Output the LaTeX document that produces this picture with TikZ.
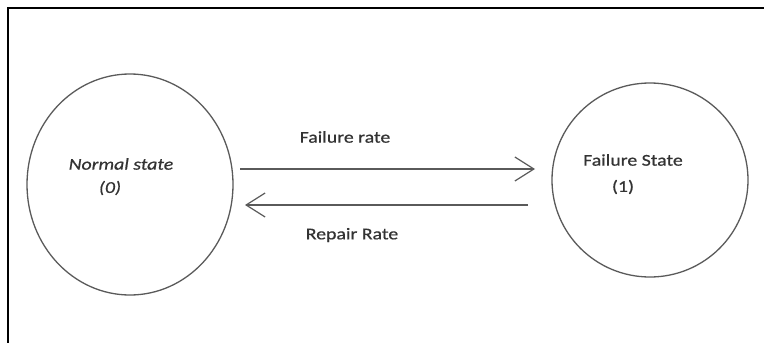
\documentclass[tikz,border=0pt]{standalone}
\usepackage{fontspec}
\setmainfont{Carlito}[FakeStretch=1.2,FakeBold=0.6]
\usetikzlibrary{shapes.geometric,arrows.meta}
\definecolor{linegray}{HTML}{5A5A5A}
\definecolor{textgray}{HTML}{333333}
\tikzset{
  statebox/.style={draw=linegray, line width=1.3pt, ellipse, inner sep=0pt},
  lbl/.style={text=textgray, font=\fontsize{16.5}{19}\selectfont, inner sep=0pt, anchor=center},
  arr/.style={draw=linegray, line width=1.2pt, -{Straight Barb[length=19pt,width=24pt,line width=1.2pt]}},
  frame/.style={draw=black, line width=2.4pt}
}
\begin{document}
\begin{tikzpicture}[x=1pt,y=-1pt]
\useasboundingbox (0,0) rectangle (764,343);
\fill[white] (0,0) rectangle (764,343);
% frame (top and left)
\coordinate (fr1) at (764,8);
\coordinate (fr2) at (8,8);
\coordinate (fr3) at (8,343);
\draw[frame] (fr1) -- (fr2) -- (fr3);
% states
\node[statebox, minimum width=206pt, minimum height=221pt] (normal) at (130,184.5) {};
\node[statebox, minimum width=196pt, minimum height=194pt] (failure) at (650,180) {};
% texts
\node[lbl, font=\fontsize{16.5}{19}\selectfont\itshape] (ntxt) at (121,164) {Normal state};
\node[lbl, font=\fontsize{16.5}{19}\selectfont\itshape] (nnum) at (110,188) {(0)};
\node[lbl] (ftxt) at (633,160) {Failure State};
\node[lbl] (fnum) at (623,187) {(1)};
\node[lbl] (frate) at (345,137) {Failure rate};
\node[lbl] (rrate) at (352,235) {Repair Rate};
% connectors
\coordinate (a1s) at (240,169);
\coordinate (a1e) at (535,169);
\coordinate (a2s) at (528,205);
\coordinate (a2e) at (245,205);
\draw[arr] (a1s) -- (a1e);
\draw[arr] (a2s) -- (a2e);
\end{tikzpicture}
\end{document}
